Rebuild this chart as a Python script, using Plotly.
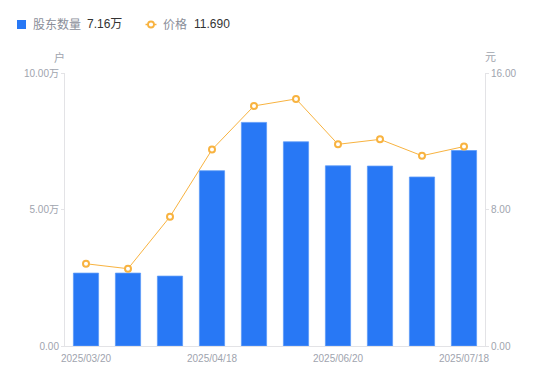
import plotly.graph_objects as go

dates = ["2025/03/20", "2025/03/31", "2025/04/10", "2025/04/18", "2025/04/30",
         "2025/05/20", "2025/06/20", "2025/06/30", "2025/07/10", "2025/07/18"]
holders = [2.67, 2.67, 2.56, 6.42, 8.19, 7.48, 6.60, 6.59, 6.19, 7.16]   # 万户
price = [4.82, 4.53, 7.58, 11.51, 14.07, 14.48, 11.82, 12.11, 11.15, 11.69]
x_ticks = ["2025/03/20", "2025/04/18", "2025/06/20", "2025/07/18"]
left_ticks = [0, 5, 10]
left_labels = ["0.00", "5.00万", "10.00万"]
right_ticks = [0, 8, 16]
right_labels = ["0.00", "8.00", "16.00"]

BLUE = "#2878f5"
ORANGE = "#f8b340"
GREY = "#a0a4ae"
AXIS = "#e3e3e6"
FONT = "Liberation Sans, Arial, Noto Sans CJK SC, sans-serif"

fig = go.Figure()
fig.add_trace(go.Bar(x=dates, y=holders, marker=dict(color=BLUE, line=dict(color="#5d9bf7", width=0.8)),
                     width=0.6, name="股东数量", yaxis="y", showlegend=False))
fig.add_trace(go.Scatter(x=dates, y=price, mode="lines+markers", yaxis="y2", name="价格",
                         line=dict(color=ORANGE, width=1),
                         marker=dict(symbol="circle", size=6, color="white",
                                     line=dict(color=ORANGE, width=2)),
                         showlegend=False))

OFF = 8  # page body margin
W, H = 550, 381
L, T = 65 - OFF, 73 - OFF
R = W - (485 - OFF)
B = H - (346 - OFF)
pw, ph = 420, 273

def px(x):
    return (x - 65) / pw

def py(y):
    return (346 - y) / ph

fig.update_layout(
    width=W, height=H,
    margin=dict(l=L, r=R, t=T, b=B),
    paper_bgcolor="white", plot_bgcolor="white",
    font=dict(family=FONT, size=10, color=GREY),
    bargap=0.4,
    xaxis=dict(type="category", categoryorder="array", categoryarray=dates,
               tickmode="array", tickvals=x_ticks, ticktext=x_ticks,
               range=[-0.5, 9.5], showgrid=False, showline=True, linecolor=AXIS, linewidth=1,
               ticks="", tickfont=dict(size=10, color=GREY), zeroline=False,
               ticklabelstandoff=3),
    yaxis=dict(range=[0, 10], tickmode="array", tickvals=left_ticks, ticktext=left_labels,
               showgrid=False, showline=True, linecolor=AXIS, linewidth=1,
               ticks="outside", ticklen=3, tickcolor=AXIS, zeroline=False,
               tickfont=dict(size=10, color=GREY)),
    yaxis2=dict(range=[0, 16], overlaying="y", side="right", tickmode="array",
                tickvals=right_ticks, ticktext=right_labels,
                showgrid=False, showline=True, linecolor=AXIS, linewidth=1,
                ticks="outside", ticklen=3, tickcolor=AXIS, zeroline=False,
                tickfont=dict(size=10, color=GREY)),
)

def note(text, x, y, xanchor="left", size=12, color=GREY):
    fig.add_annotation(text=text, x=px(x), y=py(y), xref="paper", yref="paper",
                       xanchor=xanchor, yanchor="middle", showarrow=False,
                       font=dict(size=size, color=color))

# axis unit titles
note("户", 59, 57, xanchor="center", size=11)
note("元", 490, 57, xanchor="center", size=11)

# legend (manual)
fig.add_shape(type="rect", xref="paper", yref="paper", x0=px(17), x1=px(26), y0=py(29), y1=py(20),
              fillcolor=BLUE, line=dict(width=0))
note("股东数量", 31, 24.5, color="#8a8e99")
note("7.16万", 84.5, 24.5, color="#333333")
fig.add_shape(type="line", xref="paper", yref="paper", x0=px(145.5), x1=px(156.5), y0=py(24.5), y1=py(24.5),
              line=dict(color=ORANGE, width=1.5))
fig.add_shape(type="circle", xref="paper", yref="paper", x0=px(148), x1=px(154), y0=py(27.5), y1=py(21.5),
              fillcolor="white", line=dict(color=ORANGE, width=1.8))
note("价格", 161, 24.5, color="#8a8e99")
note("11.690", 191.5, 24.5, color="#333333")

fig.write_html("out.html")
